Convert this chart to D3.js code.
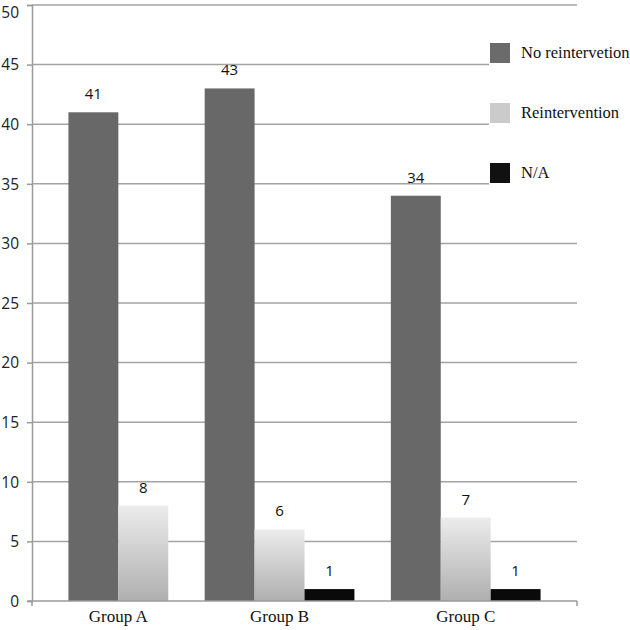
<!DOCTYPE html>
<html>
<head>
<meta charset="utf-8">
<script src="https://cdn.jsdelivr.net/npm/d3@7"></script>
<style>
  html, body { margin: 0; padding: 0; background: #fff; }
  svg { display: block; }
</style>
</head>
<body>
<svg id="chart" width="630" height="630"></svg>
<script>
// ---- data ----
const groups = ["Group A", "Group B", "Group C"];
const seriesNames = ["No reintervetion", "Reintervention", "N/A"];
const noReintervention = [41, 43, 34];
const reintervention = [8, 6, 7];
const notAvailable = [null, 1, 1];
const yTicks = [0, 5, 10, 15, 20, 25, 30, 35, 40, 45, 50];

const seriesValues = [noReintervention, reintervention, notAvailable];

// ---- layout ----
const svg = d3.select("#chart");
const plot = { left: 32, right: 577, top: 5, bottom: 601 };
const gapUnits = 0.73; // gap between groups, in bar widths

// Build bar slots (only bars with values are drawn, packed within each group)
const bars = [];
const groupSpans = [];
let cursor = gapUnits;
groups.forEach((g, gi) => {
  const start = cursor;
  seriesValues.forEach((vals, si) => {
    const v = vals[gi];
    if (v !== null && v !== undefined) {
      bars.push({ group: g, series: si, value: v, slot: cursor });
      cursor += 1;
    }
  });
  groupSpans.push({ group: g, start, end: cursor });
  cursor += gapUnits;
});
const totalUnits = cursor;

const x = d3.scaleLinear().domain([0, totalUnits]).range([plot.left, plot.right]);
const y = d3.scaleLinear().domain([0, 50]).range([plot.bottom, plot.top]);
const barW = x(1) - x(0);

// gradient for light bars
const defs = svg.append("defs");
const grad = defs.append("linearGradient").attr("id", "lightGrad")
  .attr("x1", 0).attr("y1", 0).attr("x2", 0).attr("y2", 1);
grad.append("stop").attr("offset", "0%").attr("stop-color", "#ececec");
grad.append("stop").attr("offset", "100%").attr("stop-color", "#afafaf");

const fills = ["#686868", "url(#lightGrad)", "#0a0a0a"];
const legendFills = ["#6b6b6b", "#cbcbcb", "#111111"];

// gridlines
svg.append("g").selectAll("line").data(yTicks.filter(t => t > 0)).join("line")
  .attr("x1", plot.left).attr("x2", plot.right)
  .attr("y1", d => y(d)).attr("y2", d => y(d))
  .attr("stroke", "#a3a3a3").attr("stroke-width", 1.5);

// y axis
const yAxis = d3.axisLeft(y).tickValues(yTicks).tickSize(5).tickPadding(8);
const yg = svg.append("g").attr("transform", `translate(${plot.left},0)`).call(yAxis);
yg.select(".domain").attr("stroke", "#9a9a9a").attr("stroke-width", 1.5);
yg.selectAll(".tick line").attr("stroke", "#9a9a9a").attr("stroke-width", 1.5);
yg.selectAll(".tick text")
  .attr("font-family", "'Open Sans', 'DejaVu Sans', sans-serif")
  .attr("font-size", 15.5).attr("fill", "#222")
  .attr("dy", d => d === 50 ? "0.8em" : "0.34em");

// bars
svg.append("g").selectAll("rect").data(bars).join("rect")
  .attr("x", d => x(d.slot))
  .attr("width", barW)
  .attr("y", d => y(d.value))
  .attr("height", d => y(0) - y(d.value))
  .attr("fill", d => fills[d.series]);

// value labels
svg.append("g").selectAll("text").data(bars).join("text")
  .attr("x", d => x(d.slot + 0.5))
  .attr("y", d => y(d.value) - 13)
  .attr("text-anchor", "middle")
  .attr("font-family", "'Open Sans', 'DejaVu Sans', sans-serif")
  .attr("font-size", 15).attr("fill", "#111")
  .text(d => d.value);

// x axis baseline
svg.append("line")
  .attr("x1", plot.left - 4).attr("x2", x(totalUnits))
  .attr("y1", y(0)).attr("y2", y(0))
  .attr("stroke", "#9a9a9a").attr("stroke-width", 1.5);
svg.append("g").selectAll("line").data([0, totalUnits]).join("line")
  .attr("x1", d => x(d)).attr("x2", d => x(d))
  .attr("y1", y(0)).attr("y2", y(0) + 5)
  .attr("stroke", "#9a9a9a").attr("stroke-width", 1.5);

// category labels
svg.append("g").selectAll("text").data(groupSpans).join("text")
  .attr("x", d => x((d.start + d.end) / 2))
  .attr("y", 622)
  .attr("text-anchor", "middle")
  .attr("font-family", "'Liberation Serif', 'Times New Roman', serif")
  .attr("font-size", 17).attr("fill", "#111")
  .text(d => d.group);

// legend
const legend = svg.append("g");
legend.append("rect").attr("x", 489).attr("y", 36).attr("width", 141).attr("height", 152).attr("fill", "#fff");
const lg = legend.selectAll("g").data(seriesNames).join("g")
  .attr("transform", (d, i) => `translate(490, ${43 + i * 60})`);
lg.append("rect").attr("width", 20).attr("height", 20).attr("fill", (d, i) => legendFills[i]);
lg.append("text").attr("x", 31).attr("y", 15)
  .attr("font-family", "'Liberation Serif', 'Times New Roman', serif")
  .attr("font-size", 16.5).attr("fill", "#111")
  .text(d => d);
</script>
</body>
</html>
